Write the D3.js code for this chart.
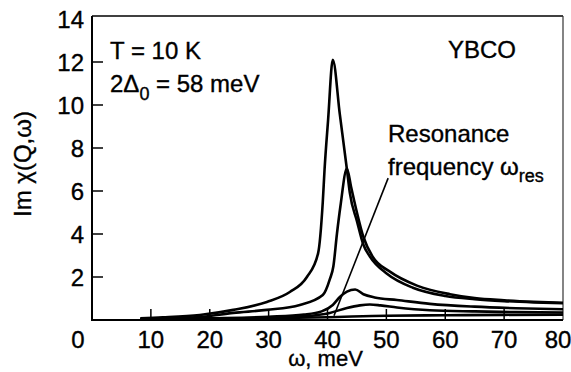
<!DOCTYPE html>
<html>
<head>
<meta charset="utf-8">
<script src="https://cdn.jsdelivr.net/npm/d3@7"></script>
<style>
  body { margin: 0; background: #fff; }
  svg text { font-family: 'Liberation Sans', Arial, Helvetica, sans-serif; fill: #000; stroke: #000; stroke-width: 0.35px; }
</style>
</head>
<body>
<div id="chart"></div>
<script>
const width = 571
const height = 372

// ω (meV), Im χ(Q,ω)
const curveTall = [[8.2,0.08],[12,0.12],[18.3,0.23],[24,0.47],[29.7,0.84],[33.6,1.3],[36.5,2.0],[38.4,3.1],[39.2,5.5],[39.5,7.0],[40.1,9.3],[40.9,12.1],[42.1,9.55],[43.3,7.0],[43.8,5.9],[45,4.6],[46.1,3.5],[47.2,2.95],[50.1,2.15],[54.5,1.5],[60,1.12],[65,0.97],[70,0.88],[75,0.82],[80,0.78]]
const curveSecond = [[8.2,0.04],[18.3,0.14],[24,0.33],[29.7,0.47],[35.3,0.7],[39.2,1.16],[40.4,1.9],[41,2.5],[41.6,4.0],[42.2,5.3],[43.3,7.05],[44,6.2],[45,5.0],[46.1,3.86],[47.7,2.93],[50.6,2.25],[55.2,1.6],[60.8,1.2],[65,1.02],[70,0.92],[75,0.85],[80,0.8]]
const curveThird = [[8.2,0.03],[20,0.08],[30,0.15],[36,0.25],[39,0.4],[40.9,0.7],[42.1,1.07],[43.3,1.32],[44.7,1.42],[46.1,1.2],[48,1.05],[51.8,0.93],[57.4,0.75],[65,0.62],[72,0.55],[80,0.5]]
const curveFourth = [[8.2,0.02],[20,0.06],[30,0.1],[36,0.17],[40.4,0.33],[43.3,0.56],[45.5,0.68],[47.2,0.72],[49,0.68],[51.8,0.58],[57.4,0.45],[65,0.4],[72,0.37],[80,0.35]]
const curveFifth = [[8.2,0.02],[20,0.05],[30,0.08],[40,0.13],[50,0.2],[60,0.22],[70,0.24],[80,0.25]]
const allCurves = [curveTall, curveSecond, curveThird, curveFourth, curveFifth]

const xTicks = [0, 10, 20, 30, 40, 50, 60, 70, 80]
const yTicks = [2, 4, 6, 8, 10, 12, 14]

// annotation arrow: from label to the resonance point
const arrowLine = [[50.3, 6.6], [41.1, 0.2]]

const plotLeft = 92
const plotRight = 563
const plotTop = 16
const plotBottom = 320

let svg = d3.select('#chart')
            .append('svg')
            .attr('width', width)
            .attr('height', height)

let xScale = d3.scaleLinear().domain([0, 80]).range([plotLeft, plotRight])
let yScale = d3.scaleLinear().domain([0, 14]).range([plotBottom, 19])

// frame
svg.append('line').attr('x1', plotLeft).attr('x2', plotRight).attr('y1', plotTop).attr('y2', plotTop)
   .attr('stroke', '#000').attr('stroke-width', 1.6)
svg.append('line').attr('x1', plotRight).attr('x2', plotRight).attr('y1', plotTop).attr('y2', plotBottom)
   .attr('stroke', '#333').attr('stroke-width', 1.2)
svg.append('line').attr('x1', plotLeft).attr('x2', plotLeft).attr('y1', plotTop).attr('y2', plotBottom + 1)
   .attr('stroke', '#000').attr('stroke-width', 2)
svg.append('line').attr('x1', plotLeft).attr('x2', plotRight).attr('y1', plotBottom).attr('y2', plotBottom)
   .attr('stroke', '#000').attr('stroke-width', 2)

// x ticks, pointing inward
svg.append('g').selectAll('line')
   .data(xTicks.filter(d => d > 0 && d < 80))
   .enter()
   .append('line')
   .attr('x1', d => xScale(d)).attr('x2', d => xScale(d))
   .attr('y1', plotBottom).attr('y2', plotBottom - 11)
   .attr('stroke', '#000').attr('stroke-width', 1.5)

svg.append('g').selectAll('text')
   .data(xTicks)
   .enter()
   .append('text')
   .attr('x', d => {
       if (d === 0) return xScale(d) - 14
       if (d === 80) return xScale(d) - 5
       return xScale(d)
   })
   .attr('y', 348)
   .attr('text-anchor', 'middle')
   .attr('font-size', '24px')
   .text(d => d)

// y ticks
svg.append('g').selectAll('line')
   .data(yTicks.filter(d => d < 14))
   .enter()
   .append('line')
   .attr('x1', plotLeft).attr('x2', plotLeft + 11)
   .attr('y1', d => yScale(d)).attr('y2', d => yScale(d))
   .attr('stroke', '#000').attr('stroke-width', 1.5)

svg.append('g').selectAll('text')
   .data(yTicks)
   .enter()
   .append('text')
   .attr('x', 84)
   .attr('y', d => yScale(d) + 8.5)
   .attr('text-anchor', 'end')
   .attr('font-size', '24px')
   .text(d => d)

// axis titles
svg.append('text')
   .attr('x', xScale(40) - 2).attr('y', 366)
   .attr('text-anchor', 'middle')
   .attr('font-size', '22px')
   .text('ω, meV')

svg.append('text')
   .attr('transform', 'translate(31,164) rotate(-90)')
   .attr('text-anchor', 'middle')
   .attr('font-size', '24px')
   .text('Im χ(Q,ω)')

// curves
let line = d3.line()
             .x(d => xScale(d[0]))
             .y(d => yScale(d[1]))
             .curve(d3.curveMonotoneX)

svg.append('g').selectAll('path')
   .data(allCurves)
   .enter()
   .append('path')
   .attr('d', d => line(d))
   .attr('fill', 'none')
   .attr('stroke', '#000')
   .attr('stroke-width', 2.6)
   .attr('stroke-linejoin', 'round')

svg.append('path')
   .attr('d', d3.line().x(d => xScale(d[0])).y(d => yScale(d[1]))(arrowLine))
   .attr('stroke', '#000')
   .attr('stroke-width', 1.6)

// annotations
svg.append('text').attr('x', 110).attr('y', 59).attr('font-size', '24px').text('T = 10 K')

let gap = svg.append('text').attr('x', 110).attr('y', 92).attr('font-size', '24px')
gap.append('tspan').text('2Δ')
gap.append('tspan').attr('font-size', '18px').attr('dy', 8).text('0')
gap.append('tspan').attr('dy', -8).text(' = 58 meV')

svg.append('text').attr('x', 448).attr('y', 58).attr('font-size', '24px').text('YBCO')

svg.append('text').attr('x', 388).attr('y', 142).attr('font-size', '24px').text('Resonance')

let freq = svg.append('text').attr('x', 388).attr('y', 175).attr('font-size', '24px')
freq.append('tspan').text('frequency ω')
freq.append('tspan').attr('font-size', '18px').attr('dy', 7).text('res')
</script>
</body>
</html>
